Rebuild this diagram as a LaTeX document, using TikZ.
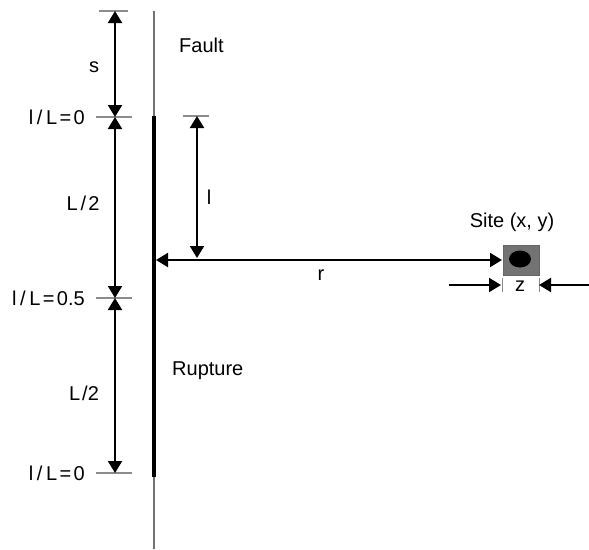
\documentclass[tikz,border=0pt]{standalone}
\usepackage{fontspec}
\setmainfont{Liberation Sans}
\usetikzlibrary{arrows.meta,shapes.geometric}
\begin{document}
\begin{tikzpicture}[x=1pt,y=-1pt,
  every node/.style={font=\fontsize{20}{24}\selectfont, inner sep=0pt},
  dimarrow/.style={line width=2pt, {Triangle[length=12pt,width=14pt]}-{Triangle[length=12pt,width=14pt]}},
  onearrow/.style={line width=2pt, -{Triangle[length=12pt,width=14pt]}},
  tick/.style={line width=1.3pt, black!45},
  faultline/.style={line width=1.6pt, black!55},
  rupture/.style={line width=4pt, black}]
\useasboundingbox (0,0) rectangle (589,549);
% coordinates
\coordinate (ftop) at (154,11);
\coordinate (fbot) at (154,549);
\coordinate (rtop) at (154,116);
\coordinate (rbot) at (154,477);
\coordinate (a0) at (115,11);
\coordinate (a1) at (115,117);
\coordinate (a2) at (115,298);
\coordinate (a3) at (115,473);
\coordinate (ltop) at (197,116);
\coordinate (lbot) at (197,258);
\coordinate (rl) at (156,260);
\coordinate (rr) at (502,260);
\coordinate (zl0) at (449,285);
\coordinate (zl1) at (501,285);
\coordinate (zr0) at (589,285);
\coordinate (zr1) at (539,285);
% fault and rupture
\draw[faultline] (ftop) -- (fbot);
\draw[rupture] (rtop) -- (rbot);
% ticks
\draw[tick] (99,11) -- (128,11);
\draw[tick] (96,117) -- (132,117);
\draw[tick] (96,298) -- (132,298);
\draw[tick] (96,473) -- (132,473);
\draw[tick] (183,116) -- (209,116);
\draw[tick, line width=1pt] (502,278) -- (502,292);
\draw[tick, line width=1pt] (539,278) -- (539,292);
% dimension arrows
\draw[dimarrow] (a0) -- (a1);
\draw[dimarrow] (a1) -- (a2);
\draw[dimarrow] (a2) -- (a3);
\draw[dimarrow] (ltop) -- (lbot);
\draw[dimarrow] (rl) -- (rr);
\draw[onearrow] (zl0) -- (zl1);
\draw[onearrow] (zr0) -- (zr1);
% site
\node[draw=black!60, fill=black!55, minimum width=36pt, minimum height=30pt, line width=0.8pt] (site) at (521,260) {};
\node[fill=black, ellipse, minimum width=22pt, minimum height=17pt] (dot) at (520,259) {};
% labels
\node (s) at (94,67) {s};
\node[anchor=east] (t0) at (85,117) {l\hspace{0.18em}/\hspace{0.18em}L\hspace{0.12em}=\hspace{0.12em}0};
\node (h1) at (83,203) {L\hspace{0.15em}/\hspace{0.1em}2};
\node[anchor=east] (t1) at (85,298) {l\hspace{0.18em}/\hspace{0.18em}L\hspace{0.12em}=\hspace{0.12em}0.5};
\node (h2) at (84,393) {L\hspace{0.1em}/2};
\node[anchor=east] (t2) at (85,473) {l\hspace{0.18em}/\hspace{0.18em}L\hspace{0.12em}=\hspace{0.12em}0};
\node[anchor=west] (fault) at (179,45) {Fault};
\node[anchor=west] (rup) at (172,371) {Rupture};
\node (lab) at (209,197) {l};
\node (rlab) at (321,275) {r};
\node (sitelab) at (512,222) {Site (x, y)};
\node (zlab) at (520,286) {z};
\end{tikzpicture}
\end{document}
